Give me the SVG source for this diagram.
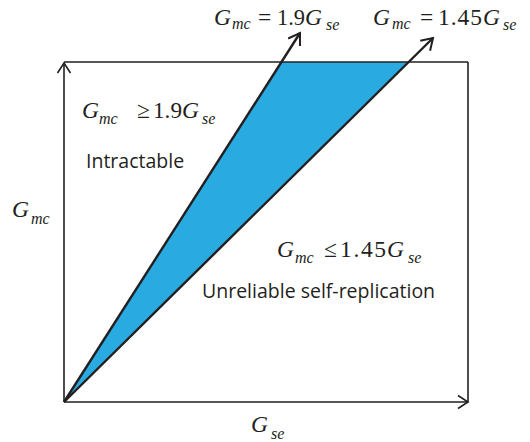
<svg xmlns="http://www.w3.org/2000/svg" width="530" height="442" viewBox="0 0 530 442">
<defs>
<style>
.m{font-family:"Liberation Serif","Times New Roman",serif;font-size:23.5px;fill:#231f20}
.i{font-style:italic}
.s{font-family:"Liberation Serif","Times New Roman",serif;font-style:italic;font-size:16px;fill:#231f20}
.t{font-family:"Open Sans","Noto Sans",sans-serif;font-size:19.5px;fill:#231f20}
.ax{stroke:#231f20;stroke-width:1.6;fill:none}
.dg{stroke:#231f20;stroke-width:2.4;fill:none}
</style>
<marker id="arr" viewBox="-12 -8 14 16" markerWidth="14" markerHeight="16" refX="0" refY="0" orient="auto" markerUnits="userSpaceOnUse">
<path d="M-10,-6.5 L0,0 L-10,6.5" fill="none" stroke="#231f20" stroke-width="1.6"/>
</marker>
<marker id="arr2" viewBox="-12 -8 14 16" markerWidth="14" markerHeight="16" refX="0" refY="0" orient="auto" markerUnits="userSpaceOnUse">
<path d="M-11,-7 L0,0 L-11,7" fill="none" stroke="#231f20" stroke-width="2"/>
</marker>
</defs>
<rect width="530" height="442" fill="#fff"/>
<g id="region">
<polygon points="64,402 281.5,62 408,62" fill="#29abe2"/>
</g>
<g id="connectors">
<line class="ax" x1="64" y1="62" x2="468" y2="62"/>
<line class="ax" x1="468" y1="62" x2="468" y2="402"/>
<line class="ax" x1="64" y1="402" x2="64" y2="63" marker-end="url(#arr)"/>
<line class="ax" x1="64" y1="402" x2="468" y2="402" marker-end="url(#arr)"/>
<line class="dg" x1="64" y1="402" x2="300" y2="33" marker-end="url(#arr2)"/>
<line class="dg" x1="64" y1="402" x2="433" y2="38" marker-end="url(#arr2)"/>
</g>
<g id="label-line1">
<text class="m i" x="214" y="25">G</text><text class="s" x="232" y="29">mc</text>
<text class="m" x="258" y="25">=</text><text class="m" x="277" y="25" textLength="28" lengthAdjust="spacingAndGlyphs">1.9</text>
<text class="m i" x="305" y="25">G</text><text class="s" x="326" y="30">se</text>
</g>
<g id="label-line2">
<text class="m i" x="373" y="25">G</text><text class="s" x="392" y="29">mc</text>
<text class="m" x="420" y="25">=</text><text class="m" x="438" y="25" textLength="44" lengthAdjust="spacing">1.45</text>
<text class="m i" x="483" y="25">G</text><text class="s" x="503" y="30">se</text>
</g>
<g id="intractable">
<text class="m i" x="82" y="118">G</text><text class="s" x="99" y="124">mc</text>
<text class="m" x="137" y="118">≥</text><text class="m" x="153" y="118" textLength="29" lengthAdjust="spacingAndGlyphs">1.9</text>
<text class="m i" x="182" y="118">G</text><text class="s" x="202" y="124">se</text>
<text class="t" x="86" y="168">Intractable</text>
</g>
<g id="unreliable">
<text class="m i" x="277" y="257">G</text><text class="s" x="295" y="263">mc</text>
<text class="m" x="324" y="257">≤</text><text class="m" x="340" y="257" textLength="46" lengthAdjust="spacing">1.45</text>
<text class="m i" x="387" y="257">G</text><text class="s" x="408" y="263">se</text>
<text class="t" x="202" y="298">Unreliable self-replication</text>
</g>
<g id="axis-labels">
<text class="m i" x="12" y="217">G</text><text class="s" x="31" y="224">mc</text>
<text class="m i" x="251" y="432">G</text><text class="s" x="271" y="439">se</text>
</g>
</svg>
